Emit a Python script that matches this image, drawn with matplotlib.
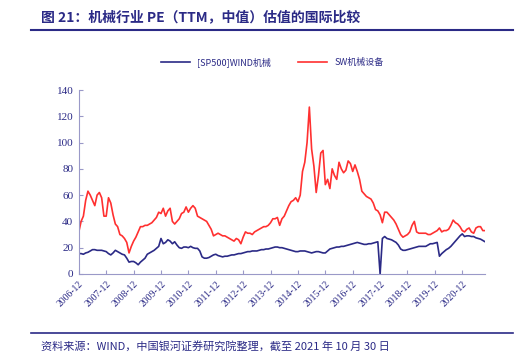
import numpy as np
import matplotlib.pyplot as plt
from matplotlib.lines import Line2D

# monthly PE (TTM, median), 2006-12 .. 2021-10
sp500_wind = [
    15.5, 15.5, 15, 16, 16.5, 17.5, 18.5, 18.5, 18, 18, 18, 17.5,
    17, 15.5, 14.5, 16, 18, 17, 16, 15, 14.5, 12, 9, 9.5,
    9.5, 8.5, 7, 9, 10.5, 12, 15, 16, 17, 18, 19.5, 21,
    27, 23, 24, 26, 25, 23, 24.5, 22, 20, 19.5, 20.5, 20.5,
    20, 21, 20, 19.5, 19.5, 17.5, 13, 12, 12, 12.5, 13.5, 14.5,
    15, 14, 13.5, 13, 13.5, 13.5, 14, 14.5, 14.5, 15, 15.5, 15.5,
    16, 16.5, 17, 17, 17.5, 17.5, 17.5, 18, 18.5, 18.5, 19, 19,
    19.5, 20, 20.5, 20.5, 20, 20, 19.5, 19, 18.5, 18, 17.5, 17,
    17, 17.5, 17.5, 17.5, 17, 16.5, 16, 16.5, 17, 17, 16.5, 16,
    16, 17.5, 19, 19.5, 20, 20.5, 20.5, 21, 21, 21.5, 22, 22.5,
    23, 23.5, 24, 23.5, 23, 22.5, 22.5, 23, 23, 23.5, 24, 24.5,
    0, 27, 28.5, 27, 26.5, 26, 25, 24, 22, 19, 18, 18,
    18.5, 19, 19.5, 20, 20.5, 21, 21, 21, 21, 22, 23, 23,
    23.5, 24, 13.5, 15.5, 17, 18.5, 19.5, 21, 23, 25, 27, 29,
    30.5, 28.5, 29, 29, 28.5, 28.5, 27.5, 27, 26.5, 25.5, 24.5,
]
sw_machinery = [
    32, 40, 44, 56, 63, 60, 56, 52, 60, 62, 58, 44,
    44, 58, 54, 45, 38, 36, 30, 29, 27, 24, 16, 21,
    25, 28, 32, 36, 36, 37, 37, 38, 39, 41, 43, 47,
    46, 50, 44, 48, 50, 40, 38, 40, 42, 46, 47, 51,
    47, 50, 52, 50, 44, 43, 42, 41, 40, 37, 34, 29,
    30, 31, 30, 29, 29, 28, 27, 26, 25, 27, 26, 23,
    28, 32, 31, 31, 30, 32, 33, 34, 35, 36, 36, 37,
    39, 42, 42, 43, 37, 42, 44, 48, 52, 55, 56, 58,
    55, 60, 78, 85, 100, 127, 95, 82, 62, 75, 92, 94,
    68, 72, 65, 80, 75, 72, 85, 80, 77, 79, 86, 84,
    78, 83, 78, 72, 63, 61, 59, 58, 57, 54, 49, 48,
    45, 39, 47, 47, 45, 43, 41, 38, 34, 30, 28, 29,
    30, 32, 37, 40, 32, 31, 31, 31, 31, 30, 30, 31,
    32, 33, 35, 32, 33, 33, 34, 37, 41, 39, 38, 36,
    33, 32, 34, 35, 32, 31, 35, 36, 36, 33, 33,
]
tick_labels = [f"{y}-12" for y in range(2006, 2021)]

navy = "#2b2a86"
red = "#ff3030"
axis_col = "#9a99c8"

plt.rcParams['font.family'] = ['Noto Sans CJK SC', 'DejaVu Sans']

fig = plt.figure(figsize=(5.29, 3.6), dpi=100)
ax = fig.add_axes([0.149, 0.239, 0.768, 0.511])

x = np.arange(len(sw_machinery))
ax.plot(x, sw_machinery, color=red, lw=1.2)
ax.plot(x, sp500_wind, color=navy, lw=1.2)

ax.set_xlim(0, len(x) - 1)
ax.set_ylim(0, 140)
ax.set_yticks(range(0, 141, 20))
ax.set_xticks(range(0, 12 * len(tick_labels), 12))
ax.set_xticklabels(tick_labels, rotation=45, ha='right', va='top',
                   rotation_mode='anchor', family='Liberation Serif',
                   fontsize=7, color=navy)
for lab in ax.get_yticklabels():
    lab.set_family('Liberation Serif')
    lab.set_fontsize(8)
    lab.set_color(navy)
for s in ['top', 'right']:
    ax.spines[s].set_visible(False)
for s in ['left', 'bottom']:
    ax.spines[s].set_color(axis_col)
ax.tick_params(axis='both', direction='in', length=3, color=axis_col, pad=4)

handles = [Line2D([], [], color=navy, lw=1.2), Line2D([], [], color=red, lw=1.2)]
fig.legend(handles, ['[SP500]WIND机械', 'SW机械设备'], loc='center',
           bbox_to_anchor=(0.515, 0.828), ncol=2, frameon=False,
           fontsize=6.5, handlelength=3.2, columnspacing=3,
           labelcolor=navy)

fig.text(0.077, 0.952, "图 21：机械行业 PE（TTM，中值）估值的国际比较",
         fontsize=10, fontweight='bold', color=navy, va='center')
fig.add_artist(Line2D([0.058, 0.97], [0.917, 0.917], color=navy, lw=1.5))
fig.add_artist(Line2D([0.058, 0.97], [0.075, 0.075], color=navy, lw=1.2))
fig.text(0.077, 0.035, "资料来源：WIND，中国银河证券研究院整理，截至 2021 年 10 月 30 日",
         fontsize=8, style='italic', color=navy, va='center')

fig.savefig("out.png", dpi=100)
